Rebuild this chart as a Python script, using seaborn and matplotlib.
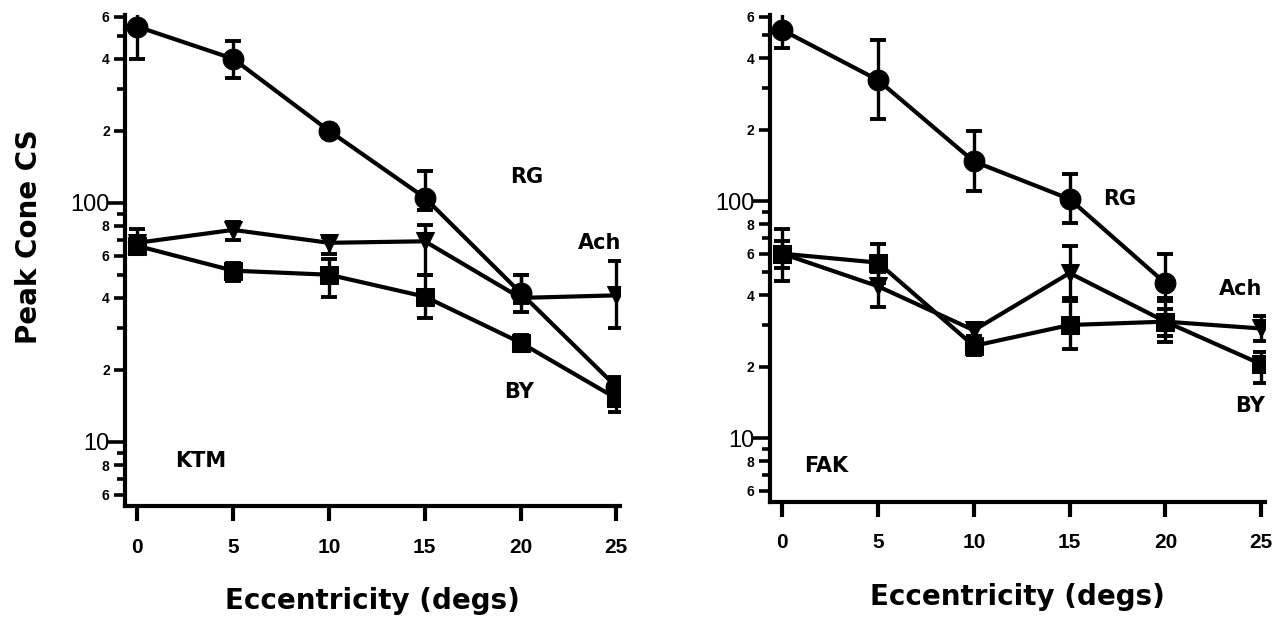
import numpy as np
import pandas as pd
import matplotlib
matplotlib.use("Agg")
import matplotlib.pyplot as plt
import seaborn as sns
from matplotlib.ticker import FixedLocator, NullFormatter, FixedFormatter

# Eccentricity (degs)
ecc = [0, 5, 10, 15, 20, 25]

# KTM panel
ktm_rg = [545, 400, 200, 105, 42, 17]
ktm_rg_lo = [400, 333, 188, 93, 38, 15.5]
ktm_rg_hi = [630, 476, 212, 136, 50, 18.7]
ktm_ach = [68, 77, 68, 69, 40, 41]
ktm_ach_lo = [64, 70, 61, 50, 35, 30]
ktm_ach_hi = [78, 83, 72, 81, 50, 57]
ktm_by = [66, 52, 50, 40.5, 26, 15.2]
ktm_by_lo = [61, 47, 40.5, 33, 24, 13.3]
ktm_by_hi = [71, 56, 58, 50, 28, 18.5]

# FAK panel (RG has no point at 25 degs)
fak_rg = [527, 324, 147, 102, 45]
fak_rg_lo = [442, 221, 110, 81, 39]
fak_rg_hi = [620, 477, 197, 130, 60]
fak_ach = [60, 43.7, 28.5, 49.7, 31, 29]
fak_ach_lo = [52, 35.7, 26, 38, 27, 25.7]
fak_ach_hi = [68, 50, 30.6, 64.6, 35, 32.7]
fak_by = [60, 55, 24.5, 30, 31, 20.5]
fak_by_lo = [46, 45, 22.5, 23.7, 25.5, 17]
fak_by_hi = [76, 66, 27, 39, 38, 23]

y_major = [6, 8, 10, 20, 40, 60, 80, 100, 200, 400, 600]
y_major_labels = ["6", "8", "10", "2", "4", "6", "8", "100", "2", "4", "6"]
y_minor = [7, 9, 30, 50, 70, 90, 300, 500]

sns.set_theme(style="white")
plt.rcParams['font.family'] = ['DejaVu Sans']
plt.rcParams['text.color'] = 'black'
plt.rcParams['axes.labelcolor'] = 'black'
plt.rcParams['xtick.color'] = 'black'
plt.rcParams['ytick.color'] = 'black'

panels = [
    ("KTM", {"RG": (ktm_rg, ktm_rg_lo, ktm_rg_hi),
             "Ach": (ktm_ach, ktm_ach_lo, ktm_ach_hi),
             "BY": (ktm_by, ktm_by_lo, ktm_by_hi)},
     {"RG": (20.3, 128), "Ach": (24.1, 68), "BY": (19.9, 16.2)}, (3.3, 8.3)),
    ("FAK", {"RG": (fak_rg, fak_rg_lo, fak_rg_hi),
             "Ach": (fak_ach, fak_ach_lo, fak_ach_hi),
             "BY": (fak_by, fak_by_lo, fak_by_hi)},
     {"RG": (17.6, 102), "Ach": (23.9, 42.5), "BY": (24.4, 13.6)}, (2.3, 7.6)),
]

fig = plt.figure(figsize=(12.83, 6.23), dpi=100)
ax_l = fig.add_axes([0.0974, 0.188, 0.386, 0.788])
ax_r = fig.add_axes([0.600, 0.195, 0.386, 0.781])

markers = {"RG": "o", "Ach": "v", "BY": "s"}
msize = {"RG": 15, "Ach": 13, "BY": 12.5}

for ax, (name, series, label_pos, name_pos) in zip([ax_l, ax_r], panels):
    rows = []
    for ch, (vals, lo, hi) in series.items():
        for x, v, l, h in zip(ecc, vals, lo, hi):
            rows.append({"ecc": x, "cs": v, "lo": l, "hi": h, "channel": ch})
    df = pd.DataFrame(rows)

    for ch in ["BY", "Ach", "RG"]:
        d = df[df["channel"] == ch]
        ax.errorbar(d["ecc"], d["cs"], yerr=[d["cs"] - d["lo"], d["hi"] - d["cs"]],
                    fmt="none", ecolor="black", elinewidth=2.4, capsize=5.5, capthick=2.8, zorder=2)
        sns.lineplot(data=d, x="ecc", y="cs", ax=ax, color="black", linewidth=3,
                     marker=markers[ch], markersize=msize[ch], markeredgecolor="black",
                     markerfacecolor="black", zorder=3, legend=False)

    ax.set_yscale("log")
    ax.set_ylim(5.4, 610)
    ax.set_xlim(-0.65, 25.2)

    ax.yaxis.set_major_locator(FixedLocator(y_major))
    ax.yaxis.set_major_formatter(FixedFormatter(y_major_labels))
    ax.yaxis.set_minor_locator(FixedLocator(y_minor))
    ax.yaxis.set_minor_formatter(NullFormatter())
    ax.set_xticks(ecc)
    ax.set_xticklabels([str(e) for e in ecc])

    ax.tick_params(axis="y", which="major", direction="out", length=8, width=2.6,
                   color="black", left=True, pad=3)
    ax.tick_params(axis="y", which="minor", direction="out", length=6, width=2.6,
                   color="black", left=True)
    ax.tick_params(axis="x", direction="out", length=11, width=3, color="black",
                   bottom=True, pad=12, labelsize=15)
    for t, lab in zip(ax.yaxis.get_major_ticks(), y_major_labels):
        if lab in ("10", "100"):
            t.tick1line.set_markersize(13)
            t.label1.set_fontsize(17)
            t.label1.set_fontweight("normal")
        else:
            t.label1.set_fontsize(10)
            t.label1.set_fontweight("bold")
        t.label1.set_fontfamily("Liberation Sans")
    for t in ax.get_xticklabels():
        t.set_fontfamily("Liberation Sans")
        t.set_fontweight("bold")

    for s in ["top", "right"]:
        ax.spines[s].set_visible(False)
    for s in ["left", "bottom"]:
        ax.spines[s].set_linewidth(3)
        ax.spines[s].set_color("black")

    for ch, (lx, ly) in label_pos.items():
        ax.text(lx, ly, ch, fontsize=15, fontweight="bold", ha="center", va="center")
    ax.text(name_pos[0], name_pos[1], name, fontsize=15, fontweight="bold",
            ha="center", va="center")

    ax.set_xlabel("Eccentricity (degs)", fontsize=20, fontweight="bold", labelpad=22)
    ax.set_ylabel("")
    ax.grid(False)

ax_l.set_ylabel("Peak Cone CS", fontsize=20, fontweight="bold")
ax_l.yaxis.set_label_coords(-0.165, 0.548)

fig.savefig("out.png", dpi=100)
